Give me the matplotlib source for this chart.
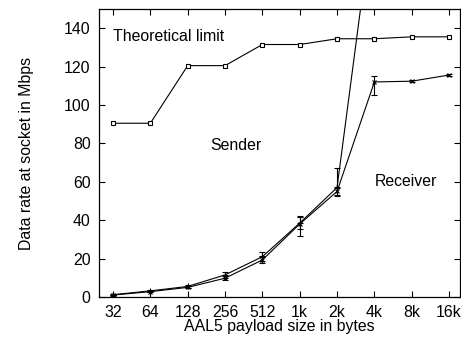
import matplotlib
matplotlib.use("Agg")
import matplotlib.pyplot as plt
import numpy as np

# payload sizes (log2 steps, evenly spaced)
sizes = ["32", "64", "128", "256", "512", "1k", "2k", "4k", "8k", "16k"]

theoretical = [90.5, 90.5, 120.5, 120.5, 131.5, 131.5, 134.5, 134.5, 135.5, 135.5]

receiver = [1.0, 2.8, 5.0, 9.8, 19.3, 38.0, 55.0, 112.0, 112.4, 115.6]
receiver_lo = [0.3, 0.4, 0.5, 1.2, 1.8, 6.0, 2.5, 7.0, 0.6, 0.6]
receiver_hi = [0.3, 0.4, 0.5, 1.2, 1.8, 4.0, 2.5, 3.0, 0.6, 0.6]

# sender leaves the plot after 2k
sender = [1.2, 3.2, 5.5, 11.5, 21.0, 38.5, 57.0, 205.0]
sender_lo = [0.3, 0.4, 0.6, 1.5, 2.0, 3.0, 4.0, 0.0]
sender_hi = [0.3, 0.4, 0.6, 1.5, 2.5, 3.0, 10.0, 0.0]

plt.rcParams["font.family"] = ["Liberation Sans", "DejaVu Sans"]
plt.rcParams["font.size"] = 11.4

fig = plt.figure(figsize=(4.61, 3.38), dpi=100)
ax = fig.add_axes([0.2148, 0.1213, 0.7832, 0.8521])

x = np.arange(len(sizes))

ax.plot(x, theoretical, color="black", lw=0.8, marker="s", ms=3.5,
        mfc="white", mec="black", mew=0.8)

ax.errorbar(x[:len(sender)], sender, yerr=[sender_lo, sender_hi], color="black",
            lw=0.8, marker="+", ms=4, mew=0.8, capsize=2, elinewidth=0.8,
            capthick=0.8)
ax.errorbar(x, receiver, yerr=[receiver_lo, receiver_hi], color="black", lw=0.8,
            marker="x", ms=3, mew=0.8, capsize=2, elinewidth=0.8, capthick=0.8)

ax.text(0.0, 135.5, "Theoretical limit", ha="left", va="center")
ax.text(3.3, 79, "Sender", ha="center", va="center")
ax.text(7.85, 60, "Receiver", ha="center", va="center")

ax.set_xlim(-0.375, 9.295)
ax.set_ylim(0, 150)
ax.set_xticks(x)
ax.set_xticklabels(sizes)
ax.set_yticks(np.arange(0, 141, 20))
ax.tick_params(direction="in", top=True, right=True, length=4, width=0.8, pad=6)

ax.set_xlabel("AAL5 payload size in bytes", labelpad=-1)
ax.set_ylabel("Data rate at socket in Mbps", labelpad=22)

for s in ax.spines.values():
    s.set_linewidth(0.9)

fig.savefig("out.png", dpi=100)
